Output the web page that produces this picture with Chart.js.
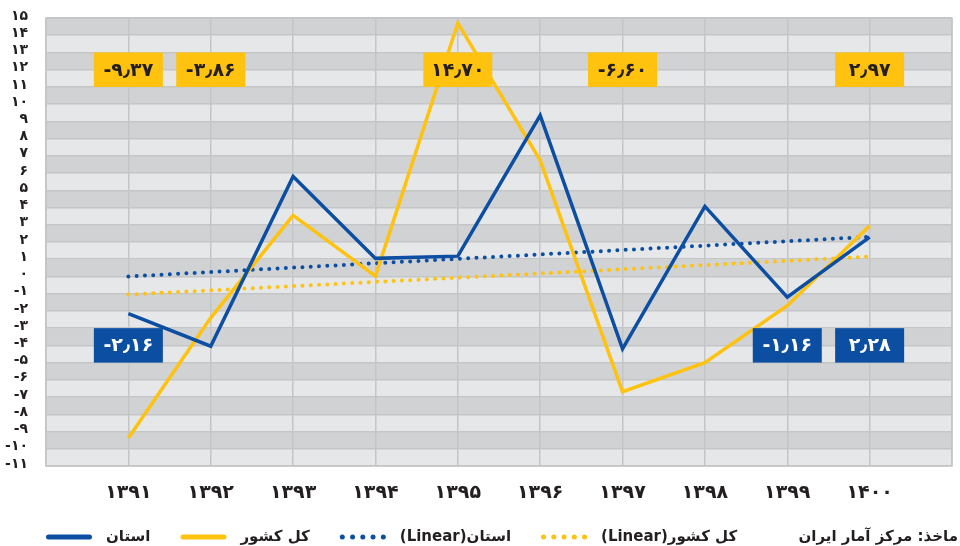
<!DOCTYPE html>
<html>
<head>
<meta charset="utf-8">
<script src="https://cdn.jsdelivr.net/npm/chart.js@4.4.1/dist/chart.umd.min.js"></script>
<style>
  html, body { margin: 0; padding: 0; background: #fff; }
  #wrap { width: 960px; height: 546px; }
</style>
</head>
<body>
<div id="wrap"><canvas id="myChart"></canvas></div>
<script>
// years (x axis)
const years = ["۱۳۹۱", "۱۳۹۲", "۱۳۹۳", "۱۳۹۴", "۱۳۹۵", "۱۳۹۶", "۱۳۹۷", "۱۳۹۸", "۱۳۹۹", "۱۴۰۰"];
// series
const ostan = [-2.16, -4.05, 5.8, 1.05, 1.18, 9.35, -4.2, 4.07, -1.2, 2.28];
const keshvar = [-9.37, -2.4, 3.55, 0.02, 14.7, 6.74, -6.69, -5.0, -1.7, 2.95];
// linear trend end points (first and last year, joined by spanGaps)
const ostanTrend = [0.0, null, null, null, null, null, null, null, null, 2.3];
const keshvarTrend = [-1.05, null, null, null, null, null, null, null, null, 1.15];
// value boxes
const yellowBoxIdx = [0, 1, 4, 6, 9];
const yellowBoxText = ["-۹٫۳۷", "-۳٫۸۶", "۱۴٫۷۰", "-۶٫۶۰", "۲٫۹۷"];
const blueBoxIdx = [0, 8, 9];
const blueBoxText = ["-۲٫۱۶", "-۱٫۱۶", "۲٫۲۸"];
const sourceText = "ماخذ: مرکز آمار ایران";

const BLUE = "#0c4ea2";
const YELLOW = "#ffc20e";
const INK = "#231f20";
const FONT = "'DejaVu Sans', sans-serif";

const faDigits = ["۰", "۱", "۲", "۳", "۴", "۵", "۶", "۷", "۸", "۹"];
function toFa(n) {
  return String(n).replace(/\d/g, (d) => faDigits[+d]);
}

// one empty slot on each side, like the original
const pad = (arr) => [null, ...arr, null];
const xLabels = ["", ...years, ""];

// grey bands behind the plot, plus the frame
const bandsPlugin = {
  id: "bands",
  beforeDraw(chart) {
    const { ctx, chartArea, scales } = chart;
    const y = scales.y;
    ctx.save();
    for (let v = -11; v < 15; v++) {
      const k = v + 11;
      const top = y.getPixelForValue(v + 1);
      const bot = y.getPixelForValue(v);
      ctx.fillStyle = k % 2 === 0 ? "#e6e7e8" : "#d1d2d4";
      ctx.fillRect(chartArea.left, top, chartArea.right - chartArea.left, bot - top);
    }
    ctx.strokeStyle = "#c4c5c7";
    ctx.lineWidth = 1.5;
    ctx.strokeRect(chartArea.left, chartArea.top, chartArea.right - chartArea.left, chartArea.bottom - chartArea.top);
    ctx.restore();
  },
};

// coloured value boxes on top of the lines
const boxesPlugin = {
  id: "boxes",
  afterDatasetsDraw(chart) {
    const { ctx, scales } = chart;
    const x = scales.x, y = scales.y;
    const w = 69;
    function drawBox(i, text, fill, color, vTop, vBot) {
      const cx = x.getPixelForValue(i + 1);
      const t = y.getPixelForValue(vTop);
      const b = y.getPixelForValue(vBot);
      ctx.fillStyle = fill;
      ctx.fillRect(cx - w / 2, t, w, b - t);
      ctx.fillStyle = color;
      ctx.font = "bold 19px " + FONT;
      ctx.textAlign = "center";
      ctx.textBaseline = "middle";
      ctx.direction = "ltr";
      ctx.fillText(text, cx, (t + b) / 2 + 1);
    }
    ctx.save();
    yellowBoxIdx.forEach((idx, n) => drawBox(idx, yellowBoxText[n], YELLOW, INK, 13, 11));
    blueBoxIdx.forEach((idx, n) => drawBox(idx, blueBoxText[n], BLUE, "#ffffff", -3, -5));
    ctx.restore();
  },
};

// legend row at the bottom (marker left of the rtl text) and the source note
const legendRowPlugin = {
  id: "legendRow",
  afterDraw(chart) {
    const ctx = chart.ctx;
    const yMid = 537;
    let x = 46;
    ctx.save();
    ctx.font = "bold 15px " + FONT;
    ctx.textBaseline = "middle";
    ctx.direction = "rtl";
    ctx.textAlign = "left";
    chart.data.datasets.forEach((ds) => {
      const dotted = ds.borderDash && ds.borderDash.length;
      ctx.strokeStyle = ds.borderColor;
      ctx.lineWidth = 5;
      ctx.lineCap = "round";
      ctx.setLineDash(dotted ? [0, 10.25] : []);
      ctx.beginPath();
      ctx.moveTo(x + 2.5, yMid);
      ctx.lineTo(x + 2.5 + (dotted ? 41.1 : 41), yMid);
      ctx.stroke();
      ctx.setLineDash([]);
      const tx = x + 46 + 14;
      ctx.fillStyle = INK;
      ctx.fillText(ds.label, tx, yMid);
      x = tx + ctx.measureText(ds.label).width + 30;
    });
    ctx.textAlign = "right";
    ctx.fillText(sourceText, 958, yMid);
    ctx.restore();
  },
};

// no automatic edge padding from the tick labels
function noEdgePadding(scale) {
  scale.paddingTop = 0;
  scale.paddingBottom = 0;
  scale.paddingLeft = 0;
  scale.paddingRight = 0;
}

const ctx = document.getElementById("myChart").getContext("2d");
const myChart = new Chart(ctx, {
  type: "line",
  data: {
    labels: xLabels,
    datasets: [
      { label: "استان", data: pad(ostan), borderColor: BLUE, backgroundColor: BLUE, borderWidth: 3.5 },
      { label: "کل کشور", data: pad(keshvar), borderColor: YELLOW, backgroundColor: YELLOW, borderWidth: 3.5 },
      {
        label: "استان(Linear)", data: pad(ostanTrend), borderColor: BLUE, backgroundColor: BLUE,
        borderWidth: 4, borderDash: [0, 8.3], borderCapStyle: "round", spanGaps: true,
      },
      {
        label: "کل کشور(Linear)", data: pad(keshvarTrend), borderColor: YELLOW, backgroundColor: YELLOW,
        borderWidth: 4, borderDash: [0, 8.3], borderCapStyle: "round", spanGaps: true,
      },
    ],
  },
  options: {
    responsive: true,
    maintainAspectRatio: false,
    animation: false,
    layout: { padding: { top: 18, right: 8, left: 0, bottom: 32 } },
    elements: { point: { radius: 0, hoverRadius: 0 }, line: { tension: 0 } },
    scales: {
      x: {
        offset: false,
        grid: { color: "#c4c5c7", lineWidth: 1.5, drawTicks: false },
        border: { display: false },
        ticks: { color: INK, font: { family: FONT, size: 19, weight: "bold" }, padding: 16, maxRotation: 0, autoSkip: false },
        afterFit(scale) { scale.height = 48; noEdgePadding(scale); },
      },
      y: {
        min: -11,
        max: 15,
        grid: { color: "#c4c5c7", lineWidth: 1.5, drawTicks: false },
        border: { display: false },
        ticks: {
          stepSize: 1,
          autoSkip: false,
          color: INK,
          padding: 18,
          labelOffset: -2,
          font: { family: FONT, size: 14, weight: "bold" },
          callback: (v) => (v < 0 ? "-" + toFa(-v) : toFa(v)),
        },
        afterFit(scale) { scale.width = 46; noEdgePadding(scale); },
      },
    },
    plugins: {
      tooltip: { enabled: false },
      legend: { display: false },
    },
  },
  plugins: [bandsPlugin, boxesPlugin, legendRowPlugin],
});
</script>
</body>
</html>
